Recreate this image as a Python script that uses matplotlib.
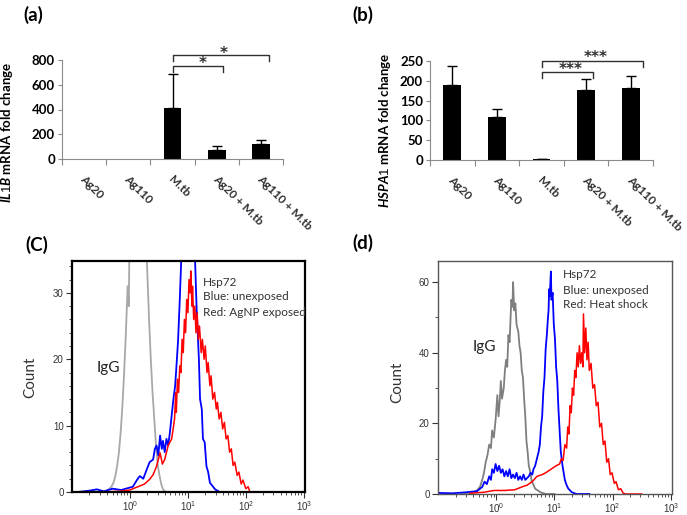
import numpy as np
import matplotlib
matplotlib.use("Agg")
import matplotlib.pyplot as plt
from matplotlib.ticker import FixedLocator, NullFormatter, LogLocator

plt.rcParams['font.family'] = ['Lato', 'DejaVu Sans']
plt.rcParams['mathtext.fontset'] = 'custom'
plt.rcParams['mathtext.it'] = 'Lato:italic:bold'
plt.rcParams['mathtext.rm'] = 'Liberation Sans'
plt.rcParams['mathtext.bf'] = 'Lato:bold'

# =========================
# 1. DATA
# =========================
categories = ["Ag20", "Ag110", "M.tb", "Ag20 + M.tb", "Ag110 + M.tb"]

il1b_mean = [0, 0, 410, 75, 118]
il1b_err = [0, 0, 280, 33, 32]

hspa1_mean = [190, 108, 2, 176, 182]
hspa1_err = [47, 22, 1, 28, 30]

# flow cytometry histograms (log10 fluorescence, count)
c_gray_x = [-0.55, -0.45, -0.38, -0.32, -0.28, -0.25, -0.22, -0.19, -0.16, -0.13, -0.10, -0.07,
            -0.04, -0.02, -0.01, 0.02, 0.10, 0.20, 0.27, 0.30, 0.33, 0.36, 0.39, 0.42, 0.45,
            0.48, 0.51, 0.54, 0.57, 0.62, 0.70]
c_gray_y = [0, 0, 0.3, 0.8, 1.5, 2.5, 4, 6, 9, 13, 18, 24, 31, 28, 36, 42, 48, 48, 40, 33, 26, 20,
            15, 11, 7, 4, 2.5, 1.2, 0.4, 0, 0]

c_blue_x = [-0.9, -0.7, -0.57, -0.45, -0.3, -0.15, -0.03, 0.05, 0.12, 0.17, 0.23, 0.29, 0.34, 0.40,
            0.43, 0.46, 0.49, 0.52, 0.55, 0.57, 0.60, 0.63, 0.66, 0.69, 0.72, 0.75, 0.78, 0.80,
            0.83, 0.86, 0.89, 1.00, 1.12, 1.15, 1.17, 1.19, 1.21, 1.24, 1.26, 1.29, 1.32, 1.35,
            1.38, 1.47, 1.55, 1.7]
c_blue_y = [0, 0.2, 0.4, 0.1, 0.5, 0.3, 0.6, 0.8, 1.8, 2.4, 2.0, 3.4, 4.5, 4.9, 6.5, 7.0, 5.5, 8.5,
            6.5, 7.7, 6.0, 8.0, 7.0, 9.0, 11.5, 14, 16, 18.6, 22.7, 29, 36, 40, 36, 27.8, 24, 20,
            14, 12.5, 8, 7.5, 3.9, 3, 1.4, 0.4, 0, 0]

c_red_x = [-0.5, -0.2, 0.0, 0.08, 0.17, 0.25, 0.34, 0.40, 0.46, 0.52, 0.56, 0.60, 0.66, 0.72,
           0.77, 0.79, 0.80, 0.82, 0.84, 0.86, 0.88, 0.90, 0.92, 0.94, 0.96, 0.98, 1.00, 1.02,
           1.04, 1.05, 1.07, 1.08, 1.10, 1.12, 1.14, 1.16, 1.18, 1.20, 1.23, 1.25, 1.28, 1.30,
           1.33, 1.35, 1.38, 1.40, 1.43, 1.46, 1.49, 1.51, 1.54, 1.57, 1.60, 1.63, 1.66, 1.69,
           1.72, 1.75, 1.78, 1.81, 1.85, 1.88, 1.92, 1.95, 2.00, 2.04, 2.07, 2.3]
c_red_y = [0, 0.1, 0.3, 0.6, 0.9, 1.2, 1.9, 2.6, 3.9, 5.9, 4.2, 4.9, 7.0, 8.0,
           11, 15, 12, 17, 15, 19, 18, 23, 21, 26, 24, 29, 27, 32,
           30, 33.3, 28, 31, 26, 28, 24, 27, 23, 25, 21, 23, 20, 22,
           18, 19.5, 16, 17.5, 14, 15, 12.5, 13.5, 11, 12, 9.5, 10.5, 8, 8.5,
           6, 6.5, 4, 4.5, 2.5, 3, 1.2, 1.8, 0.5, 0.8, 0, 0]

d_gray_x = [-0.6, -0.45, -0.33, -0.28, -0.24, -0.21, -0.18, -0.15, -0.12, -0.09, -0.07, -0.04,
            -0.01, 0.02, 0.04, 0.06, 0.08, 0.10, 0.13, 0.15, 0.17, 0.19, 0.21, 0.23, 0.26, 0.28,
            0.29, 0.31, 0.33, 0.35, 0.38, 0.40, 0.42, 0.44, 0.46, 0.48, 0.50, 0.52, 0.54, 0.56,
            0.59, 0.61, 0.63, 0.67, 0.76, 0.85, 1.0]
d_gray_y = [0, 0, 1, 2, 4, 6, 9, 11, 14, 13, 18, 16,
            21, 28, 22, 26, 32, 27, 30, 35, 38, 36, 45, 43, 55, 53,
            60, 52, 54, 48, 46, 42, 40, 35, 33, 27, 22, 15, 12, 8,
            6, 3.5, 3, 1.5, 0.5, 0, 0]

d_blue_x = [-0.98, -0.75, -0.51, -0.33, -0.24, -0.20, -0.16, -0.12, -0.09, -0.07, -0.04, -0.01,
            0.02, 0.05, 0.08, 0.11, 0.14, 0.17, 0.20, 0.23, 0.26, 0.29, 0.32, 0.35, 0.38, 0.41,
            0.44, 0.47, 0.50, 0.53, 0.56, 0.59, 0.62, 0.64, 0.67, 0.70, 0.73, 0.75, 0.77, 0.79,
            0.81, 0.83, 0.85, 0.87, 0.89, 0.90, 0.91, 0.92, 0.94, 0.95, 0.97, 0.99, 1.01, 1.03,
            1.05, 1.07, 1.09, 1.11, 1.14, 1.16, 1.18, 1.21, 1.24, 1.30, 1.38, 1.6]
d_blue_y = [0.3, 0.2, 0.5, 0.8, 2, 3.5, 2.8, 5, 4, 7, 6, 8.5,
            6.5, 8, 6, 7, 5, 6.5, 5, 7, 4.5, 5.5, 4.5, 6, 4, 5,
            4, 5.5, 4, 4.5, 5, 6, 5.5, 7, 8, 10, 12, 14, 19, 22,
            29, 33, 41, 45, 50, 52, 58, 56, 63, 55, 57, 48, 44, 36,
            32, 24, 18, 12, 8, 6, 4, 2.5, 1.5, 0.5, 0, 0]

d_red_x = [-0.45, -0.21, -0.04, 0.14, 0.32, 0.44, 0.53, 0.62, 0.70, 0.79, 0.85, 0.94, 1.03, 1.09,
           1.12, 1.15, 1.18, 1.21, 1.23, 1.25, 1.27, 1.29, 1.31, 1.33, 1.35, 1.37, 1.39, 1.41,
           1.43, 1.45, 1.47, 1.49, 1.50, 1.52, 1.54, 1.56, 1.58, 1.60, 1.63, 1.66, 1.69, 1.72,
           1.75, 1.78, 1.81, 1.84, 1.87, 1.90, 1.93, 1.96, 1.99, 2.03, 2.06, 2.10, 2.14, 2.18,
           2.22, 2.5]
d_red_y = [0.2, 0.5, 1, 1, 1.2, 2, 2.5, 3.5, 5, 5.5, 6, 7, 8, 8.5,
           10, 9.5, 14, 13, 19, 17, 25, 23, 30, 28, 35, 33, 40, 36,
           42, 37, 40, 36, 51, 40, 47, 38, 43, 35, 37, 30, 31, 25,
           26, 19, 20, 14, 15, 9, 10, 5.5, 6, 3, 3.5, 1.2, 1.5, 0.3,
           0, 0]


# =========================
# 2. HELPERS
# =========================
W, H = 687, 515


def box(x0, y0, x1, y1):
    # pixel box -> figure fraction [left, bottom, width, height]
    return [x0 / W, 1 - y1 / H, (x1 - x0) / W, (y1 - y0) / H]


def bar_panel(ax, means, errs, ymax, step, brackets, stars):
    x = np.arange(len(categories))
    ax.bar(x, means, width=0.4, color="black", zorder=2)
    for xi, m, e in zip(x, means, errs):
        if e > 0:
            ax.errorbar(xi, m, yerr=[[0], [e]], color="black", lw=1, capsize=3.5, capthick=1)
    ax.set_xlim(-0.5, len(categories) - 0.5)
    ax.set_ylim(0, ymax)
    ax.set_yticks(np.arange(0, ymax + 1, step))
    ax.set_xticks(np.arange(-0.5, len(categories), 1.0))
    ax.set_xticklabels([])
    for s in ["top", "right"]:
        ax.spines[s].set_visible(False)
    for s in ["left", "bottom"]:
        ax.spines[s].set_color("#8a8a8a")
    ax.tick_params(axis="y", length=3, color="#8a8a8a", labelsize=9.5, pad=2)
    ax.tick_params(axis="x", length=4, color="#8a8a8a")
    for lab in ax.get_yticklabels():
        lab.set_fontweight("bold")
    for xi, name in zip(x, categories):
        ax.annotate(name, xy=(xi, 0), xycoords=("data", "axes fraction"),
                    xytext=(-1.5, -13), textcoords="offset points",
                    rotation=-45, rotation_mode="anchor", ha="left", va="center",
                    fontsize=8.5, fontweight="bold", color="#303030")
    for (x0, x1, ytop, ylow) in brackets:
        ax.plot([x0, x0, x1, x1], [ylow, ytop, ytop, ylow], color="#303030", lw=1, clip_on=False)
    for (sx, sy, txt) in stars:
        ax.text(sx, sy, txt, ha="center", va="center", fontsize=11, family="DejaVu Sans",
                fontweight="bold", color="#303030", clip_on=False)


def flow_panel(ax, curves, ymax, yticks, yminor, spine_color, spine_lw):
    for xs, ys, col, lw in curves:
        ax.plot(10 ** np.array(xs), ys, color=col, lw=lw)
    ax.set_xscale("log")
    ax.set_xlim(0.1, 1050)
    ax.set_ylim(0, ymax)
    ax.set_xticks([1, 10, 100, 1000])
    ax.set_xticklabels([r"$10^{0}$", r"$10^{1}$", r"$10^{2}$", r"$10^{3}$"])
    ax.xaxis.set_minor_locator(LogLocator(base=10, subs=np.arange(2, 10)))
    ax.xaxis.set_minor_formatter(NullFormatter())
    ax.set_yticks(yticks)
    ax.yaxis.set_minor_locator(FixedLocator(yminor))
    ax.tick_params(axis="both", which="major", length=4, width=0.8, color="#333333",
                   labelsize=7, labelcolor="#333333", pad=2)
    ax.tick_params(axis="both", which="minor", length=2, width=0.6, color="#333333")
    for lab in ax.get_yticklabels():
        lab.set_fontfamily("Liberation Sans")
    for s in ax.spines.values():
        s.set_color(spine_color)
        s.set_linewidth(spine_lw)


# =========================
# 3. FIGURE
# =========================
fig = plt.figure(figsize=(6.87, 5.15), dpi=100)

# (a) IL1B
ax_a = fig.add_axes(box(62, 60, 283, 159))
bar_panel(ax_a, il1b_mean, il1b_err, 800, 200,
          brackets=[(2.0, 3.15, 752, 703), (2.0, 4.18, 840, 792)],
          stars=[(2.68, 770, "*"), (3.16, 855, "*")])
fig.text(7 / W, 1 - 132 / H, r"$\mathit{IL1B}$ mRNA fold change", rotation=90,
         ha="center", va="center", fontsize=9.5, fontweight="bold")

# (b) HSPA1
ax_b = fig.add_axes(box(430, 61, 653, 160))
bar_panel(ax_b, hspa1_mean, hspa1_err, 250, 50,
          brackets=[(2.0, 3.15, 222, 207), (2.0, 4.27, 250, 235)],
          stars=[(2.66, 229, "***"), (3.22, 259, "***")])
fig.text(385 / W, 1 - 130 / H, r"$\mathit{HSPA1}$ mRNA fold change", rotation=90,
         ha="center", va="center", fontsize=9.5, fontweight="bold")

# (C) flow, AgNP exposed
ax_c = fig.add_axes(box(72, 261, 305, 492))
flow_panel(ax_c, [(c_gray_x, c_gray_y, "#a8a8a8", 1.3),
                  (c_blue_x, c_blue_y, "#0000ff", 1.3),
                  (c_red_x, c_red_y, "#ff0000", 1.1)],
           34.8, [0, 10, 20, 30], np.arange(0, 35, 2), "black", 1.6)
ax_c.text(0.107, 0.535, "IgG", transform=ax_c.transAxes, fontsize=11, color="#222222",
          ha="left", va="center")
for i, t in enumerate(["Hsp72", "Blue: unexposed", "Red: AgNP exposed"]):
    fig.text(203 / W, 1 - (282 + 15 * i) / H, t, fontsize=8.5, color="#333333",
             ha="left", va="center")
fig.text(30 / W, 1 - 377 / H, "Count", rotation=90, fontsize=11, color="#333333",
         ha="center", va="center")

# (d) flow, heat shock
ax_d = fig.add_axes(box(438, 261, 672, 494))
flow_panel(ax_d, [(d_gray_x, d_gray_y, "#7f7f7f", 1.3),
                  (d_blue_x, d_blue_y, "#0000ff", 1.3),
                  (d_red_x, d_red_y, "#ff0000", 1.1)],
           66, [0, 20, 40, 60], [10, 30, 50], "#555555", 1.0)
ax_d.text(473 / W, 1 - 347 / H, "IgG", transform=fig.transFigure, fontsize=11, color="#222222",
          ha="left", va="center")
for i, t in enumerate(["Hsp72", "Blue: unexposed", "Red: Heat shock"]):
    fig.text(563 / W, 1 - (275 + 15 * i) / H, t, fontsize=8.5, color="#333333",
             ha="left", va="center")
fig.text(397 / W, 1 - 382 / H, "Count", rotation=90, fontsize=11, color="#333333",
         ha="center", va="center")

# panel letters
for lab, x, y in [("(a)", 23, 15), ("(b)", 352, 15), ("(C)", 25, 245), ("(d)", 352, 243)]:
    fig.text(x / W, 1 - y / H, lab, fontsize=13.5, fontweight="bold", ha="left", va="center")

fig.savefig("out.png", dpi=100)
